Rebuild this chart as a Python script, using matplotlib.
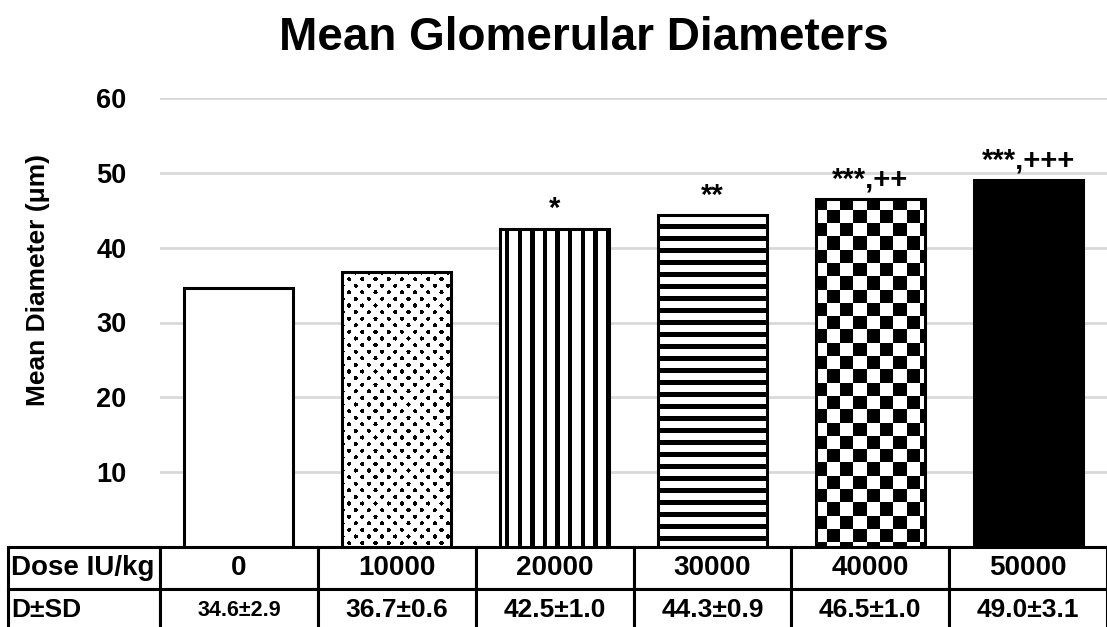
import matplotlib
matplotlib.use("Agg")
import matplotlib.pyplot as plt
import numpy as np

plt.rcParams['font.family'] = ['Liberation Sans', 'DejaVu Sans']
plt.rcParams['font.weight'] = 'bold'

doses = ['0', '10000', '20000', '30000', '40000', '50000']
means = [34.6, 36.7, 42.5, 44.3, 46.5, 49.0]
sd_labels = ['34.6±2.9', '36.7±0.6', '42.5±1.0', '44.3±0.9', '46.5±1.0', '49.0±3.1']
signif = ['', '', '*', '**', '***,++', '***,+++']
patterns = ['white', 'dots', 'vlines', 'hlines', 'checker', 'black']


def make_pattern(kind, h, w):
    yy, xx = np.mgrid[0:h, 0:w].astype(float)
    img = np.ones((h, w))
    if kind == 'dots':
        a = 6.6
        u = (xx + yy) / 2.0
        v = (xx - yy) / 2.0
        du = u - a * np.round(u / a)
        dv = v - a * np.round(v / a)
        img[2 * (du ** 2 + dv ** 2) < 2.1 ** 2] = 0
    elif kind == 'vlines':
        img[((xx + 8) % 12.6) < 4.4] = 0
    elif kind == 'hlines':
        img[((yy + 3) % 12.0) < 4.2] = 0
    elif kind == 'checker':
        s = 13.3
        img[((np.floor((xx + 3) / s) + np.floor((yy + 3) / s)) % 2) == 0] = 0
    elif kind == 'black':
        img[:] = 0
    return img


fig = plt.figure(figsize=(11.07, 6.27), dpi=100)
ax = fig.add_axes([160 / 1107, 80 / 627, 947 / 1107, 449 / 627])

x = np.arange(len(doses))
ax.set_xlim(-0.5, len(doses) - 0.5)
ax.set_ylim(0, 60)

fills = ax.bar(x, means, width=0.69, color='white', edgecolor='none', zorder=2)
ax.bar(x, means, width=0.69, color='none', edgecolor='black', linewidth=2.2, zorder=4)

for bar, kind in zip(fills, patterns):
    if kind == 'white':
        continue
    bb = bar.get_window_extent()
    h, w = int(round(bb.height)), int(round(bb.width))
    img = make_pattern(kind, h, w)
    x0 = bar.get_x()
    ax.imshow(img, cmap='gray', vmin=0, vmax=1, interpolation='nearest',
              extent=(x0, x0 + bar.get_width(), 0, bar.get_height()),
              origin='upper', aspect='auto', clip_path=bar, zorder=3)

ax.set_xlim(-0.5, len(doses) - 0.5)
ax.set_ylim(0, 60)

for xi, m, s in zip(x, means, signif):
    if s:
        ax.annotate(s, (xi, m), xytext=(0, 4), textcoords='offset points',
                    ha='center', va='bottom', fontsize=21, fontweight='bold')

ax.set_yticks([10, 20, 30, 40, 50, 60])
ax.set_xticks([])
ax.tick_params(axis='y', length=0, pad=24, labelsize=19.5)
ax.yaxis.grid(True, color='#d9d9d9', linewidth=2)
ax.set_axisbelow(True)
for sp in ax.spines.values():
    sp.set_visible(False)
ax.set_ylabel('Mean Diameter (μm)', fontsize=19, fontweight='bold')
ax.yaxis.set_label_coords((38 - 160) / 947, (547 - 280) / 449)
ax.yaxis.label.set_va('center')

fig.text(584 / 1107, 1 - 38 / 627, 'Mean Glomerular Diameters', ha='center', va='center',
         fontsize=33, fontweight='bold')

cells = [['Dose IU/kg'] + doses, ['D±SD'] + sd_labels]
first_w = 152
col_w = 947 / 6
widths = [first_w] + [col_w] * 6
total = sum(widths)
tab = ax.table(cellText=cells, colWidths=[wd / total for wd in widths],
               bbox=[-first_w / 947, -84 / 449, total / 947, 84 / 449], cellLoc='center')
tab.auto_set_font_size(False)
for (r, c), cell in tab.get_celld().items():
    cell.set_linewidth(2.2)
    cell.set_edgecolor('black')
    t = cell.get_text()
    t.set_fontweight('bold')
    t.set_fontsize(20 if r == 0 else 19)
    if c == 0:
        cell.set_text_props(ha='left')
        cell.PAD = 0.02
    if r == 1 and c == 1:
        t.set_fontsize(15.5)

fig.savefig('out.png', dpi=100)
